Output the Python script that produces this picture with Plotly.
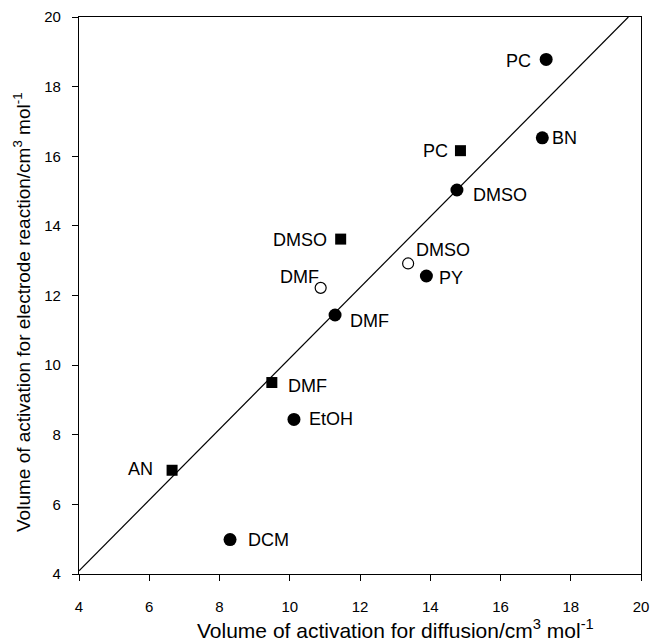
import plotly.graph_objects as go

# Filled circles
fc_x = [17.30, 17.19, 14.76, 13.89, 11.29, 10.12, 8.30]
fc_y = [18.78, 16.53, 15.03, 12.56, 11.44, 8.44, 4.99]
fc_lab = ["PC", "BN", "DMSO", "PY", "DMF", "EtOH", "DCM"]
# Filled squares
sq_x = [14.86, 11.45, 9.49, 6.65]
sq_y = [16.16, 13.62, 9.50, 6.98]
sq_lab = ["PC", "DMSO", "DMF", "AN"]
# Open circles
oc_x = [13.37, 10.88]
oc_y = [12.92, 12.22]
oc_lab = ["DMSO", "DMF"]
# Regression line end points
fit_x = [4.0, 19.64]
fit_y = [4.09, 20.0]

x_ticks = [4, 6, 8, 10, 12, 14, 16, 18, 20]
y_ticks = [4, 6, 8, 10, 12, 14, 16, 18, 20]

x_title = "Volume of activation for diffusion/cm<sup>3</sup> mol<sup>-1</sup>"
y_title = "Volume of activation for electrode reaction/cm<sup>3</sup> mol<sup>-1</sup>"

# label offsets in pixels (dx right, dy down)
fc_off = [(-28, 2), (22, 0), (43, 5), (25, 2), (34, 6), (37, 0), (38, 0)]
sq_off = [(-25, 0), (-41, 1), (36, 3), (-32, -1)]
oc_off = [(35, -13), (-21, -11)]

FONT = "Liberation Sans, Arial, sans-serif"

fig = go.Figure()
fig.add_trace(go.Scatter(x=fit_x, y=fit_y, mode="lines",
                         line=dict(color="black", width=1.2), showlegend=False))
fig.add_trace(go.Scatter(x=fc_x, y=fc_y, mode="markers",
                         marker=dict(symbol="circle", size=13, color="black"), showlegend=False))
fig.add_trace(go.Scatter(x=sq_x, y=sq_y, mode="markers",
                         marker=dict(symbol="square", size=11, color="black"), showlegend=False))
fig.add_trace(go.Scatter(x=oc_x, y=oc_y, mode="markers",
                         marker=dict(symbol="circle", size=11, color="white",
                                     line=dict(color="black", width=1.2)), showlegend=False))

for xs, ys, labs, offs in [(fc_x, fc_y, fc_lab, fc_off), (sq_x, sq_y, sq_lab, sq_off),
                           (oc_x, oc_y, oc_lab, oc_off)]:
    for x, y, t, (dx, dy) in zip(xs, ys, labs, offs):
        fig.add_annotation(x=x, y=y, text=t, showarrow=False, xshift=dx, yshift=-dy,
                           font=dict(family=FONT, size=18, color="black"))

# axis titles as annotations (paper coordinates)
fig.add_annotation(xref="paper", yref="paper", x=0.5623, y=-0.0987, text=x_title,
                   showarrow=False, xanchor="center", yanchor="middle",
                   font=dict(family=FONT, size=21, color="black"))
fig.add_annotation(xref="paper", yref="paper", x=-0.1014, y=0.4704, text=y_title,
                   showarrow=False, xanchor="center", yanchor="middle", textangle=-90,
                   font=dict(family=FONT, size=19, color="black"))

axis_common = dict(showline=True, linecolor="black", linewidth=1.2, mirror=True,
                   ticks="outside", ticklen=6, tickwidth=1, tickcolor="black",
                   showgrid=False, zeroline=False, automargin=False,
                   tickfont=dict(family=FONT, size=15, color="black"))

fig.update_xaxes(range=[4, 20], tickvals=x_ticks, ticktext=[str(v) for v in x_ticks],
                 ticklabelstandoff=13, **axis_common)
fig.update_yaxes(range=[4, 20], tickvals=y_ticks, ticktext=[str(v) for v in y_ticks],
                 ticklabelstandoff=8, **axis_common)

fig.update_layout(width=650, height=642, margin=dict(l=79, r=9, t=17, b=68),
                  plot_bgcolor="white", paper_bgcolor="white",
                  font=dict(family=FONT, color="black"))

fig.write_html("out.html")
